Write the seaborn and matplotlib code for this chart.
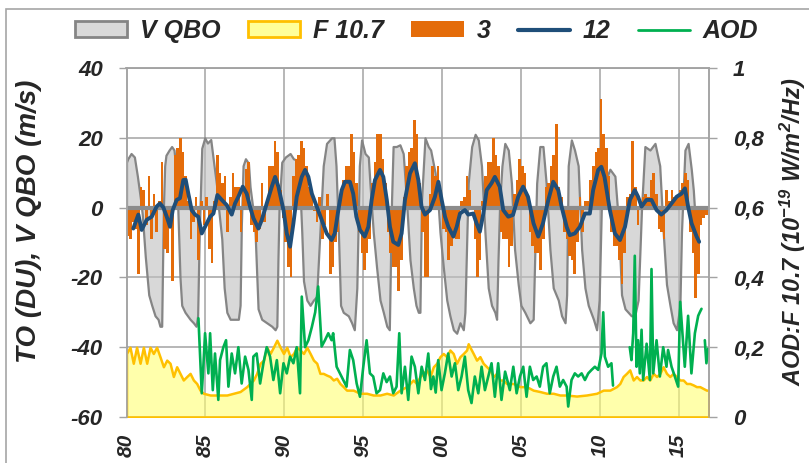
import numpy as np
import pandas as pd
import matplotlib
matplotlib.use("Agg")
import matplotlib.pyplot as plt
import seaborn as sns
from matplotlib.patches import Patch, Rectangle
from matplotlib.lines import Line2D

# ---------------- data ----------------
# V QBO (m/s): (decimal year, value)
qbo = [(1980.0,13),(1980.08,14),(1980.29,15.5),(1980.5,14.5),(1980.69,9),(1980.9,2),(1981.0,-2),(1981.19,-14),(1981.41,-25),(1981.6,-28),(1981.81,-31),(1982.0,-32),(1982.12,-34),(1982.23,-34),(1982.29,-15),(1982.34,0),(1982.42,12),(1982.5,15),(1982.7,16.5),(1982.86,17.5),(1983.01,16.5),(1983.12,12),(1983.25,0),(1983.39,-20),(1983.5,-28),(1983.71,-30),(1984.03,-32),(1984.24,-33),(1984.41,-34),(1984.51,-31),(1984.6,-10),(1984.66,0),(1984.77,17),(1984.96,20),(1985.13,18.5),(1985.34,19.5),(1985.55,12),(1985.72,6),(1985.83,0),(1986.04,-9),(1986.19,-23),(1986.36,-30),(1986.57,-32),(1986.88,-32),(1987.09,-32),(1987.2,-28),(1987.28,-5),(1987.39,12),(1987.54,14),(1987.73,12.7),(1987.83,6),(1988.0,0),(1988.15,-7),(1988.34,-29),(1988.57,-32),(1988.89,-33),(1989.21,-34),(1989.42,-35),(1989.53,-34),(1989.6,-15),(1989.67,0),(1989.84,13),(1990.07,14.5),(1990.37,15.5),(1990.58,14),(1990.79,13.6),(1990.96,9),(1991.11,-7),(1991.22,-21),(1991.43,-26.5),(1991.64,-28),(1991.85,-26.5),(1992.05,-25.5),(1992.26,-7),(1992.47,12),(1992.68,18.4),(1993.0,20),(1993.15,20),(1993.28,12),(1993.43,-7),(1993.57,-28),(1993.74,-30),(1994.06,-31),(1994.27,-33),(1994.44,-35),(1994.6,-23),(1994.76,12),(1994.9,19.4),(1995.12,15.5),(1995.33,14.5),(1995.43,7),(1995.64,-7),(1995.85,-17),(1996.07,-26.5),(1996.28,-30),(1996.5,-34),(1996.66,-35),(1996.8,2),(1996.9,17.5),(1997.1,17.5),(1997.33,18),(1997.54,15.5),(1997.75,2),(1997.97,-15),(1998.18,-23),(1998.35,-28),(1998.5,-30),(1998.6,-30),(1998.7,2),(1998.92,20),(1999.13,17.5),(1999.28,16.5),(1999.56,10),(1999.77,0),(1999.87,-7),(2000.08,-17),(2000.3,-26.5),(2000.5,-31),(2000.72,-35),(2000.93,-36),(2001.14,-33),(2001.35,-35),(2001.45,-30),(2001.66,7),(2001.88,17.5),(2002.1,21),(2002.3,19.4),(2002.5,12),(2002.72,-7),(2002.93,-23),(2003.14,-28),(2003.35,-30),(2003.46,-32),(2003.55,-15),(2003.66,2),(2003.8,12),(2003.98,18.4),(2004.2,16.5),(2004.4,7),(2004.6,-12),(2004.83,-22),(2005.0,-28),(2005.25,-30),(2005.57,-33),(2005.78,-32),(2005.9,-10),(2006.0,7),(2006.2,17.5),(2006.4,17.5),(2006.6,7),(2006.84,-12),(2007.05,-23),(2007.37,-26.5),(2007.58,-31),(2007.8,-33),(2007.9,-25),(2008.0,12),(2008.2,19.4),(2008.4,16.5),(2008.63,12),(2008.85,-12),(2009.06,-23),(2009.27,-28),(2009.6,-32),(2009.8,-35),(2009.96,-26.5),(2010.1,0),(2010.3,7),(2010.64,11),(2010.96,9),(2011.2,-5),(2011.38,-25),(2011.6,-29),(2011.8,-30),(2012.0,-31),(2012.22,-31),(2012.43,-26.5),(2012.65,0),(2012.86,17.5),(2013.18,16.5),(2013.5,18.4),(2013.8,12),(2014.02,-7),(2014.23,-22),(2014.45,-28),(2014.65,-33),(2014.87,-35),(2015.08,-28),(2015.18,-7),(2015.4,16.5),(2015.6,18.4),(2015.8,11),(2015.93,5),(2016.0,0)]

# total ozone "3" (DU), bimonthly values from Jan 1980, six per year
to3_start = 1980.0
to3 = [
    -8, -9, -4, -6, -19, 6,      # 1980
    5, -5, 9, -9, 4, -7,         # 1981
    2, 13, -12, -13, -5, -21,    # 1982
    15, 17, 20, 16, 9, 2,        # 1983
    -9, -4, 3, -15, 2, -5,       # 1984
    3, -12, -16, 2, 15, 10,      # 1985
    7, 9, -7, 3, 10, 6,          # 1986
    6, -7, 5, 11, 13, -5,        # 1987
    -7, -10, -6, 7, -4, 2,       # 1988
    12, 12, 19, 16, 5, -3,       # 1989
    -10, -17, -20, 9, 14, 15,    # 1990
    19, 17, 12, 6, 4, -1,        # 1991
    -4, 3, -9, -5, 4, -19,       # 1992
    -17, -10, -7, 4, 8, 12,      # 1993
    12, 21, 16, 7, -7, -13,      # 1994
    -18, -13, -9, 7, 13, 21,     # 1995
    21, 14, 7, -7, -13, -17,     # 1996
    -17, -24, -15, 3, 12, 16,    # 1997
    17, 25, 21, 7, -7, -20,      # 1998
    -20, 4, 12, 9, 12, 5,        # 1999
    -6, -7, -15, -11, -7, -9,    # 2000
    -9, 2, 3, 9, 5, 0,           # 2001
    -9, -20, -15, 2, 9, 13,      # 2002
    13, 20, 15, 12, -7, -9,      # 2003
    -9, -17, -11, 4, 8, 14,      # 2004
    12, 10, 3, -7, -11, -13,     # 2005
    -13, -18, -9, 6, 7, 12,      # 2006
    15, 24, 6, 3, -7, -9,        # 2007
    -14, -15, -19, -10, 3, -7,   # 2008
    2, 2, 8, 12, 16, 17,         # 2009
    31, 21, 17, 9, -7, -11,      # 2010
    -11, -15, -22, -13, 3, 4,    # 2011
    19, 6, -5, 2, 3, 4,          # 2012
    3, 8, 10, 4, -6, -7,         # 2013
    -9, 5, 2, 5, 3, 3,           # 2014
    5, 7, 10, 8, -7, -13,        # 2015
    -26, -19, -5, -3, -2, -1,    # 2016
]

# "12" smoothed ozone (DU)
to12 = [(1980.43,-6),(1980.75,-2),(1980.96,-6.4),(1981.28,-3.5),(1981.6,-2.6),(1981.91,0.3),(1982.12,1.2),(1982.34,0),(1982.55,-2.6),(1982.76,-5.5),(1982.93,-0.7),(1983.18,2.2),(1983.39,2.7),(1983.6,7.9),(1983.75,8),(1983.92,4),(1984.13,-0.7),(1984.34,-2),(1984.55,-2.6),(1984.77,-7.4),(1984.98,-5.5),(1985.3,-2.6),(1985.51,-1.7),(1985.76,3.6),(1986.04,2.2),(1986.36,0.7),(1986.67,-2),(1986.88,1.2),(1987.09,3.1),(1987.37,6),(1987.62,4),(1987.83,0.3),(1988.04,-3),(1988.36,-6),(1988.57,-3.6),(1988.89,1.2),(1989.21,6),(1989.42,8.8),(1989.63,6),(1989.95,-0.7),(1990.16,-7.4),(1990.37,-11.2),(1990.58,-4.5),(1990.79,3.1),(1991.11,8.8),(1991.32,10.8),(1991.53,8.8),(1991.75,4),(1992.06,0.3),(1992.37,-3.5),(1992.69,-7.4),(1993.0,-9.3),(1993.2,-7.4),(1993.43,-0.7),(1993.64,5),(1993.85,7.4),(1994.16,7.4),(1994.37,4),(1994.57,-2.6),(1994.8,-6.4),(1995.1,-8.3),(1995.33,-5.5),(1995.54,2.2),(1995.75,7.9),(1996.07,10.8),(1996.28,8.8),(1996.5,2.2),(1996.7,-5.5),(1996.91,-9.8),(1997.23,-10.7),(1997.44,-7.4),(1997.65,2.2),(1997.97,9.8),(1998.28,12.7),(1998.5,7.9),(1998.7,0.3),(1998.92,-2),(1999.24,-0.7),(1999.55,3.1),(1999.77,7.4),(1999.98,2.2),(2000.19,-2.6),(2000.4,-5.5),(2000.72,-8.3),(2000.93,-5.5),(2001.14,-1.7),(2001.45,-0.7),(2001.66,-2),(2001.98,-1.7),(2002.19,-4.5),(2002.4,-6.9),(2002.62,-1.7),(2002.83,5),(2003.14,7),(2003.35,8.8),(2003.66,6),(2003.88,-0.7),(2004.2,-2.6),(2004.5,-2.1),(2004.83,3.1),(2005.14,6),(2005.45,3.1),(2005.8,-4.5),(2006.1,-8.3),(2006.4,-4.5),(2006.74,2.2),(2007.05,7.4),(2007.37,5),(2007.58,0.3),(2007.9,-5.5),(2008.1,-7.9),(2008.42,-7.4),(2008.74,-5.5),(2009.06,-1.7),(2009.37,-1.7),(2009.58,5),(2009.9,10.8),(2010.1,11.7),(2010.3,8.8),(2010.64,-0.7),(2010.96,-7.4),(2011.28,-9.3),(2011.6,-5.5),(2011.91,2.2),(2012.22,5),(2012.43,3.1),(2012.65,0.3),(2012.96,2.2),(2013.28,2.2),(2013.6,-0.7),(2013.9,-2),(2014.23,-0.7),(2014.55,1.2),(2014.87,3.1),(2015.18,4),(2015.4,5.5),(2015.6,0.3),(2015.82,-4.5),(2016.14,-8.3),(2016.3,-9.8)]

# F 10.7 (10^-19 W/m2/Hz)
f107 = [(1980.0,.182),(1980.22,.2),(1980.43,.154),(1980.64,.2),(1980.86,.154),(1981.07,.2),(1981.28,.154),(1981.49,.2),(1981.7,.182),(1981.91,.2),(1982.12,.173),(1982.34,.144),(1982.55,.163),(1982.76,.154),(1982.97,.116),(1983.18,.144),(1983.39,.125),(1983.6,.106),(1983.82,.116),(1984.03,.125),(1984.24,.106),(1984.45,.096),(1984.66,.077),(1984.87,.068),(1985.3,.063),(1985.72,.063),(1986.36,.063),(1986.78,.068),(1987.2,.073),(1987.62,.087),(1988.04,.106),(1988.25,.125),(1988.47,.154),(1988.68,.163),(1988.89,.2),(1989.1,.182),(1989.31,.2),(1989.53,.22),(1989.74,.2),(1989.95,.182),(1990.16,.2),(1990.37,.173),(1990.58,.182),(1990.79,.2),(1991.0,.192),(1991.22,.182),(1991.43,.2),(1991.64,.182),(1991.85,.163),(1992.06,.154),(1992.26,.125),(1992.47,.125),(1992.69,.12),(1992.9,.116),(1993.11,.106),(1993.32,.111),(1993.53,.096),(1993.74,.087),(1993.95,.077),(1994.37,.077),(1994.8,.068),(1995.22,.068),(1995.64,.063),(1996.07,.063),(1996.49,.068),(1996.91,.063),(1997.33,.077),(1997.75,.087),(1997.96,.096),(1998.17,.106),(1998.39,.096),(1998.6,.116),(1998.81,.125),(1999.02,.135),(1999.24,.116),(1999.45,.144),(1999.66,.154),(1999.87,.173),(2000.08,.182),(2000.29,.173),(2000.5,.192),(2000.71,.182),(2000.92,.154),(2001.14,.173),(2001.35,.182),(2001.56,.192),(2001.66,.21),(2001.77,.2),(2001.98,.182),(2002.19,.163),(2002.4,.173),(2002.61,.154),(2002.83,.144),(2003.04,.135),(2003.25,.116),(2003.46,.125),(2003.67,.106),(2003.88,.106),(2004.09,.096),(2004.52,.096),(2004.94,.087),(2005.36,.087),(2005.78,.077),(2006.2,.073),(2006.63,.068),(2007.05,.068),(2007.47,.063),(2007.9,.063),(2008.53,.06),(2009.16,.063),(2009.8,.068),(2010.22,.077),(2010.64,.077),(2011.06,.087),(2011.27,.096),(2011.48,.116),(2011.69,.125),(2011.9,.135),(2012.12,.106),(2012.33,.116),(2012.54,.106),(2012.75,.106),(2012.96,.116),(2013.17,.106),(2013.39,.125),(2013.6,.116),(2013.81,.125),(2014.02,.144),(2014.23,.125),(2014.44,.116),(2014.65,.125),(2014.86,.116),(2015.08,.106),(2015.29,.106),(2015.5,.096),(2015.71,.096),(2015.92,.092),(2016.13,.087),(2016.34,.087),(2016.55,.082),(2016.76,.077),(2016.92,.077)]

# AOD (None = gap in the record)
aod = [(1984.56,.283),(1984.77,.068),(1984.87,.144),(1984.98,.24),(1985.19,.125),(1985.3,.24),(1985.47,.077),(1985.61,.182),(1985.82,.049),(1985.93,.163),(1986.14,.2),(1986.31,.22),(1986.46,.087),(1986.67,.182),(1986.88,.125),(1987.09,.2),(1987.3,.096),(1987.52,.173),(1987.73,.135),(1987.94,.049),(1988.04,.173),(1988.25,.182),(1988.47,.096),(1988.68,.154),(1988.89,.2),(1989.1,.173),(1989.31,.106),(1989.53,.163),(1989.74,.068),(1989.95,.154),(1990.16,.125),(1990.37,.173),(1990.58,.154),(1990.79,.2),(1991.0,.068),(1991.11,.345),(1991.32,.2),(1991.53,.22),(1991.75,.258),(1991.96,.3),(1992.15,.374),(1992.37,.202),(1992.58,.22),(1992.79,.24),(1993.0,.22),(1993.1,.24),(1993.32,.144),(1993.53,.125),(1993.74,.106),(1993.95,.087),(1994.16,.192),(1994.37,.163),(1994.59,.096),(1994.8,.058),(1995.01,.144),(1995.22,.22),(1995.43,.125),(1995.64,.116),(1995.85,.068),(1996.07,.077),(1996.28,.125),(1996.49,.1),(1996.7,.116),(1996.91,.068),(1997.12,.087),(1997.29,.24),(1997.44,.068),(1997.65,.144),(1997.86,.049),(1998.07,.173),(1998.28,.144),(1998.5,.068),(1998.71,.144),(1998.92,.106),(1999.13,.182),(1999.3,.08),(1999.45,.116),(1999.6,.07),(1999.76,.163),(1999.97,.077),(2000.18,.125),(2000.39,.182),(2000.61,.116),(2000.82,.154),(2001.03,.077),(2001.24,.116),(2001.45,.173),(2001.66,.077),(2001.87,.04),(2002.08,.116),(2002.3,.068),(2002.51,.144),(2002.72,.077),(2002.93,.116),(2003.14,.154),(2003.35,.058),(2003.56,.154),(2003.77,.049),(2004.0,.13),(2004.3,.077),(2004.52,.144),(2004.73,.068),(2004.94,.116),(2005.15,.144),(2005.36,.058),(2005.57,.144),(2005.78,.106),(2006.0,.116),(2006.2,.087),(2006.41,.144),(2006.62,.154),(2006.83,.068),(2007.05,.116),(2007.26,.144),(2007.47,.087),(2007.68,.106),(2007.9,.087),(2008.0,.03),(2008.21,.106),(2008.42,.125),(2008.63,.116),(2008.85,.125),(2009.06,.106),(2009.27,.125),(2009.48,.135),(2009.69,.144),(2009.9,.135),(2010.11,.182),(2010.22,.3),(2010.32,.173),(2010.53,.144),(2010.74,.154),(2010.84,.09),(2011.3,None),(2011.9,.2),(2012.01,.163),(2012.12,.24),(2012.22,.462),(2012.33,.144),(2012.43,.22),(2012.54,.125),(2012.65,.25),(2012.75,.106),(2012.97,.21),(2013.18,.106),(2013.28,.424),(2013.39,.125),(2013.6,.22),(2013.81,.116),(2014.02,.2),(2014.23,.144),(2014.33,.192),(2014.55,.144),(2014.76,.116),(2014.97,.087),(2015.1,.33),(2015.39,.144),(2015.6,.29),(2015.81,.125),(2016.03,.24),(2016.24,.29),(2016.34,.3),(2016.45,.31),(2016.55,None),(2016.66,.22),(2016.76,.154),(2016.87,.196)]

x_ticks = [1980, 1985, 1990, 1995, 2000, 2005, 2010, 2015]
x_labels = ["80", "85", "90", "95", "00", "05", "10", "15"]
yl_ticks = [-60, -40, -20, 0, 20, 40]
yr_ticks = [0, 0.2, 0.4, 0.6, 0.8, 1.0]
yr_labels = ["0", "0,2", "0,4", "0,6", "0,8", "1"]
legend_labels = ["V QBO", "F 10.7", "3", "12", "AOD"]

# ---------------- style ----------------
sns.set_theme(style="white")
plt.rcParams["font.family"] = ["Liberation Sans", "DejaVu Sans"]
plt.rcParams["font.weight"] = "bold"
plt.rcParams["font.style"] = "italic"
plt.rcParams["mathtext.fontset"] = "custom"
plt.rcParams["mathtext.rm"] = "Liberation Sans:italic:bold"
plt.rcParams["mathtext.it"] = "Liberation Sans:italic:bold"
plt.rcParams["mathtext.bf"] = "Liberation Sans:italic:bold"
plt.rcParams["mathtext.default"] = "rm"

C_GRID = "#A3A3A3"
C_QBO_F = (0.75, 0.75, 0.75, 0.6)
C_QBO_E = "#858585"
C_F_F = (1.0, 1.0, 0.45, 0.6)
C_F_E = "#FFC000"
C_O3 = "#E46C0A"
C_12 = "#1F4E79"
C_AOD = "#00B050"
TXT = dict(fontweight="bold", fontstyle="italic")

df_qbo = pd.DataFrame(qbo, columns=["t", "v"])
df_12 = pd.DataFrame(to12, columns=["t", "v"])
df_f = pd.DataFrame(f107, columns=["t", "v"])
df_aod = pd.DataFrame(aod, columns=["t", "v"]).astype(float)
df_aod["seg"] = df_aod["v"].isna().cumsum()
df_aod = df_aod.dropna()
t3 = to3_start + np.arange(len(to3)) / 6.0

fig = plt.figure(figsize=(8.09, 4.63), dpi=100)
ax = fig.add_axes([126.5 / 809, 1 - 417 / 463, (709.4 - 126.5) / 809, (417 - 68) / 463])

# primary axis
ax.fill_between(df_qbo["t"], df_qbo["v"], 0, facecolor=C_QBO_F, edgecolor=C_QBO_E, lw=1.6, zorder=1)
ax.bar(t3, to3, width=1 / 6, align="edge", color=C_O3, lw=0, zorder=2)
ax.axhline(0, color="#8C8C8C", lw=3, zorder=2.5)
sns.lineplot(data=df_12, x="t", y="v", ax=ax, color=C_12, lw=2.8, zorder=3)

ax.set_xlim(1980, 2016.95)
ax.set_ylim(-60, 40)
ax.set_yticks(yl_ticks)
ax.set_xticks(x_ticks)
ax.set_xticklabels(x_labels, rotation=90, fontsize=15, **TXT)
ax.set_yticklabels([str(v) for v in yl_ticks], fontsize=16, **TXT)
ax.grid(True, color=C_GRID, lw=1.1)
ax.set_axisbelow(True)
ax.tick_params(axis="y", left=True, direction="out", length=6, width=1, color=C_GRID, pad=11)
ax.tick_params(axis="x", bottom=False, length=0, pad=12)
for s in ["left", "top", "right"]:
    ax.spines[s].set_color(C_GRID)
    ax.spines[s].set_linewidth(1.1)
ax.spines["bottom"].set_visible(False)
ax.set_xlabel("")
ax.set_ylabel("TO (DU), V QBO (m/s)", fontsize=20, **TXT)
ax.yaxis.set_label_coords(-0.145, 0.56)

# secondary axis
ax2 = ax.twinx()
ax2.fill_between(df_f["t"], df_f["v"], 0, facecolor=C_F_F, edgecolor=C_F_E, lw=1.8, zorder=1)
sns.lineplot(data=df_aod, x="t", y="v", units="seg", estimator=None, ax=ax2, color=C_AOD, lw=1.9, zorder=2)
ax2.set_ylim(0, 1)
ax2.set_xlim(1980, 2016.95)
ax2.set_yticks(yr_ticks)
ax2.set_yticklabels(yr_labels, fontsize=16, **TXT)
ax2.tick_params(axis="y", right=True, direction="out", length=6, width=1, color=C_GRID, pad=11)
ax2.grid(False)
for s in ["left", "top", "right"]:
    ax2.spines[s].set_color(C_GRID)
    ax2.spines[s].set_linewidth(1.1)
ax2.spines["bottom"].set_visible(False)
ax2.set_xlabel("")
ax2.set_ylabel(r"AOD:F 10.7 (10$^{-19}$ W/m$^{2}$/Hz)", fontsize=17, rotation=90, **TXT)
ax2.yaxis.set_label_coords(1.118, 0.53)

# legend
handles = [
    Patch(facecolor="#D9D9D9", edgecolor=C_QBO_E, lw=2),
    Patch(facecolor="#FFFF99", edgecolor=C_F_E, lw=2),
    Patch(facecolor=C_O3, edgecolor=C_O3, lw=0),
    Line2D([0], [0], color=C_12, lw=3),
    Line2D([0], [0], color=C_AOD, lw=2),
]
fig.legend(handles, legend_labels, loc="center", bbox_to_anchor=(0.515, 0.933), ncol=5,
           frameon=False, prop={"size": 18, "weight": "bold", "style": "italic"},
           handlelength=2.1, handleheight=0.6, handletextpad=0.5, columnspacing=1.1)

fig.add_artist(Rectangle((6 / 809, -0.05), 1.2, 1 - 9 / 463 + 0.05, transform=fig.transFigure,
                         fill=False, edgecolor="#A6A6A6", lw=1.2))

fig.savefig("out.png", dpi=100)
